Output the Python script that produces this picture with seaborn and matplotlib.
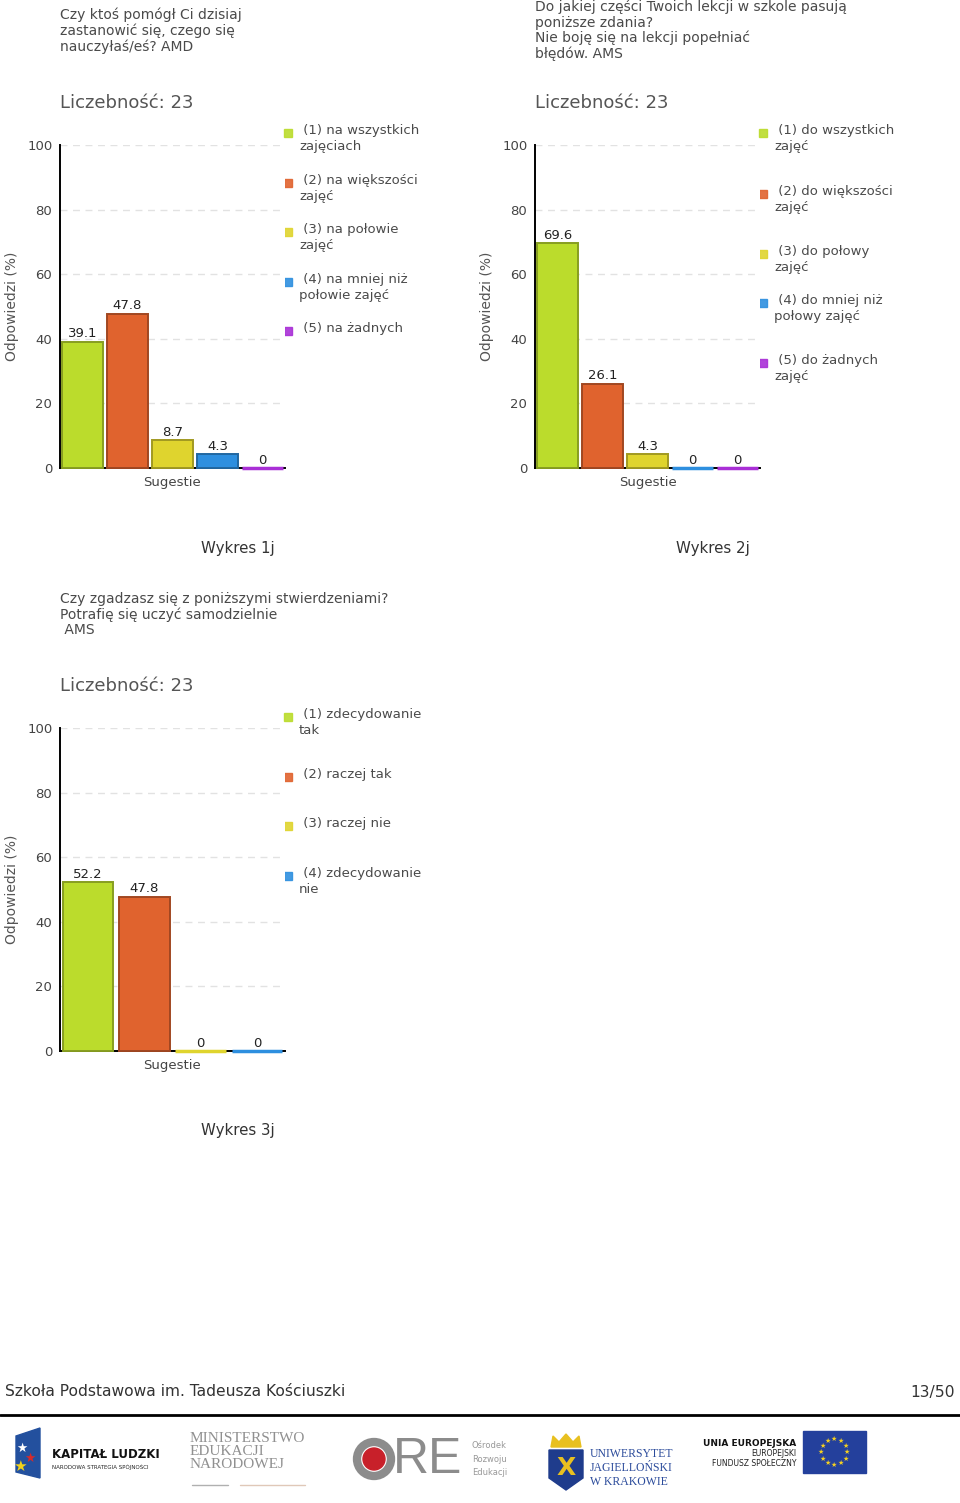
import numpy as np
import pandas as pd
import seaborn as sns
import matplotlib.pyplot as plt
from matplotlib.patches import Rectangle, Circle, Polygon
from matplotlib.colors import to_rgb

W, H = 960, 1503

# dane
pytanie_1 = "Czy ktoś pomógł Ci dzisiaj\nzastanowić się, czego się\nnauczyłaś/eś? AMD"
odpowiedzi_1 = ["(1) na wszystkich\nzajęciach", "(2) na większości\nzajęć", "(3) na połowie\nzajęć",
                "(4) na mniej niż\npołowie zajęć", "(5) na żadnych"]
wartosci_1 = [39.1, 47.8, 8.7, 4.3, 0]

pytanie_2 = "Do jakiej części Twoich lekcji w szkole pasują\nponiższe zdania?\nNie boję się na lekcji popełniać\nbłędów. AMS"
odpowiedzi_2 = ["(1) do wszystkich\nzajęć", "(2) do większości\nzajęć", "(3) do połowy\nzajęć",
                "(4) do mniej niż\npołowy zajęć", "(5) do żadnych\nzajęć"]
wartosci_2 = [69.6, 26.1, 4.3, 0, 0]

pytanie_3 = "Czy zgadzasz się z poniższymi stwierdzeniami?\nPotrafię się uczyć samodzielnie\n AMS"
odpowiedzi_3 = ["(1) zdecydowanie\ntak", "(2) raczej tak", "(3) raczej nie", "(4) zdecydowanie\nnie"]
wartosci_3 = [52.2, 47.8, 0, 0]

liczebnosc = [23, 23, 23]
podpisy = ["Wykres 1j", "Wykres 2j", "Wykres 3j"]
kolory = ["#bbdc2c", "#e0632e", "#dfd42e", "#2e8fdf", "#a92fd6"]

# uklad strony w pikselach: (left, top, right, bottom) osi, pytanie, liczebnosc, podpis, legenda
uklad = [
    dict(ax=(60, 145, 285, 468), q=(60, 8), n=(60, 103), cap=(238, 548), leg_x=284, leg_y=[133, 183, 232, 282, 331]),
    dict(ax=(535, 145, 760, 468), q=(535, 0), n=(535, 103), cap=(713, 548), leg_x=759, leg_y=[133, 194, 254, 303, 363]),
    dict(ax=(60, 728, 285, 1051), q=(60, 592), n=(60, 686), cap=(238, 1131), leg_x=284, leg_y=[717, 777, 826, 876]),
]

sns.set_theme(style="white")
plt.rcParams['font.family'] = ['DejaVu Sans']

fig = plt.figure(figsize=(W / 100, H / 100), dpi=100)
page = fig.add_axes([0, 0, 1, 1])
page.set_xlim(0, W)
page.set_ylim(H, 0)
page.axis('off')

TXT = '#4a4a4a'


def ciemniej(c, f=0.72):
    return tuple(v * f for v in to_rgb(c))


def wykres(pytanie, odpowiedzi, wartosci, n, podpis, u):
    l, t, r, b = u['ax']
    ax = fig.add_axes([l / W, 1 - b / H, (r - l) / W, (b - t) / H])
    df = pd.DataFrame({'grupa': 'Sugestie', 'odpowiedz': odpowiedzi, 'wartosc': wartosci})
    sns.barplot(data=df, x='grupa', y='wartosc', hue='odpowiedz', hue_order=odpowiedzi,
                palette=kolory[:len(odpowiedzi)], width=1, gap=0.1, saturation=1,
                legend=False, ax=ax)
    for p in ax.patches:
        fc = p.get_facecolor()
        p.set_zorder(4)
        p.set_clip_on(False)
        if p.get_height() == 0:
            p.set_edgecolor(fc)
            p.set_linewidth(2.5)
        else:
            p.set_edgecolor(ciemniej(fc))
            p.set_linewidth(1.4)
    for c in ax.containers:
        ax.bar_label(c, fmt='%g', padding=1, fontsize=9.5, color='#222222')

    ax.set_xlim(-0.5, 0.5)
    ax.set_ylim(0, 100)
    ax.set_yticks(range(0, 101, 20))
    ax.set_yticks([10, 30, 50, 70, 90], minor=True)
    ax.yaxis.grid(True, which='major', linestyle=(0, (5, 4)), color='#e2e2e2', lw=1)
    ax.set_axisbelow(True)
    ax.set_xlabel('')
    ax.set_ylabel('Odpowiedzi (%)', fontsize=10, color='#555555', labelpad=6)
    ax.tick_params(axis='both', which='major', labelsize=9.5, labelcolor='#444444',
                   direction='inout', length=7, width=1.2, color='black', pad=2)
    ax.tick_params(axis='y', which='minor', direction='in', length=3, width=1, color='#cc2222')
    for s in ['top', 'right']:
        ax.spines[s].set_visible(False)
    for s in ['left', 'bottom']:
        ax.spines[s].set_color('black')
        ax.spines[s].set_linewidth(1.4)

    page.text(u['q'][0], u['q'][1], pytanie, fontsize=10, color=TXT, va='top', ha='left',
              linespacing=1.1)
    page.text(u['n'][0], u['n'][1], f'Liczebność: {n}', fontsize=13, color='#555555',
              va='center', ha='left')
    page.text(u['cap'][0], u['cap'][1], podpis, fontsize=10.8, color='#333333',
              va='center', ha='center')
    for lab, y, col in zip(odpowiedzi, u['leg_y'], kolory):
        page.add_patch(Rectangle((u['leg_x'], y - 4), 8, 8, color=col, alpha=0.9))
        page.text(u['leg_x'] + 15, y - 9, ' ' + lab, fontsize=9.5, color=TXT,
                  va='top', ha='left', linespacing=1.3)
    return ax


wykres(pytanie_1, odpowiedzi_1, wartosci_1, liczebnosc[0], podpisy[0], uklad[0])
wykres(pytanie_2, odpowiedzi_2, wartosci_2, liczebnosc[1], podpisy[1], uklad[1])
wykres(pytanie_3, odpowiedzi_3, wartosci_3, liczebnosc[2], podpisy[2], uklad[2])

# stopka
page.text(5, 1392, 'Szkoła Podstawowa im. Tadeusza Kościuszki', fontsize=11.2, color='#333333',
          va='center', ha='left')
page.text(955, 1392, '13/50', fontsize=11.2, color='#333333', va='center', ha='right')
page.plot([0, W], [1415, 1415], color='black', lw=2)

# logotypy (uproszczone)
page.add_patch(Polygon([(16, 1436), (40, 1428), (40, 1478), (16, 1472)], color='#23509e'))
page.text(22, 1448, '★', color='white', fontsize=9, ha='center', va='center')
page.text(30, 1458, '★', color='#d82a2a', fontsize=9, ha='center', va='center')
page.text(20, 1466, '★', color='#f3d21a', fontsize=11, ha='center', va='center')
page.text(52, 1455, 'KAPITAŁ LUDZKI', fontsize=8.5, fontweight='bold', color='#111111', va='center')
page.text(52, 1467, 'NARODOWA STRATEGIA SPÓJNOŚCI', fontsize=4, color='#222222', va='center')

page.text(190, 1432, 'MINISTERSTWO\nEDUKACJI\nNARODOWEJ', family='Liberation Serif', fontsize=11,
          color='#909090', va='top', ha='left', linespacing=1.0)
page.plot([192, 228], [1485, 1485], color='#b0b0b0', lw=1)
page.plot([240, 305], [1485, 1485], color='#e0c8b8', lw=1)

page.add_patch(Circle((374, 1459), 17, fill=False, ec='#8c8c8c', lw=6))
page.add_patch(Circle((374, 1459), 11, color='#c8202a'))
page.text(393, 1460, 'RE', family='Liberation Sans', fontsize=36, color='#8c8c8c',
          va='center', ha='left')
page.text(472, 1459, 'Ośrodek\nRozwoju\nEdukacji', fontsize=6, color='#999999', va='center',
          ha='left', linespacing=1.6)

page.add_patch(Polygon([(549, 1450), (583, 1450), (583, 1478), (566, 1490), (549, 1478)],
                       color='#1f3c8c'))
page.add_patch(Polygon([(551, 1447), (553, 1436), (559, 1442), (566, 1434), (573, 1442),
                        (579, 1436), (581, 1447)], color='#e8c020'))
page.text(566, 1468, 'X', fontsize=18, color='#e8c020', ha='center', va='center', fontweight='bold')
page.text(590, 1468, 'UNIWERSYTET\nJAGIELLOŃSKI\nW KRAKOWIE', family='Liberation Serif',
          fontsize=8.5, color='#2b4b9b', va='center', ha='left', linespacing=1.2)

page.text(796, 1443, 'UNIA EUROPEJSKA', fontsize=6.5, fontweight='bold', color='#111111',
          va='center', ha='right')
page.text(796, 1453, 'EUROPEJSKI', fontsize=5.5, color='#222222', va='center', ha='right')
page.text(796, 1463, 'FUNDUSZ SPOŁECZNY', fontsize=5.5, color='#222222', va='center', ha='right')
page.add_patch(Rectangle((803, 1431), 63, 42, color='#24409c'))
for k in range(12):
    a = 2 * np.pi * k / 12
    page.text(834 + 13 * np.cos(a), 1452 + 13 * np.sin(a), '★', color='#f5d020', fontsize=5,
              ha='center', va='center')

fig.savefig('out.png', dpi=100)
